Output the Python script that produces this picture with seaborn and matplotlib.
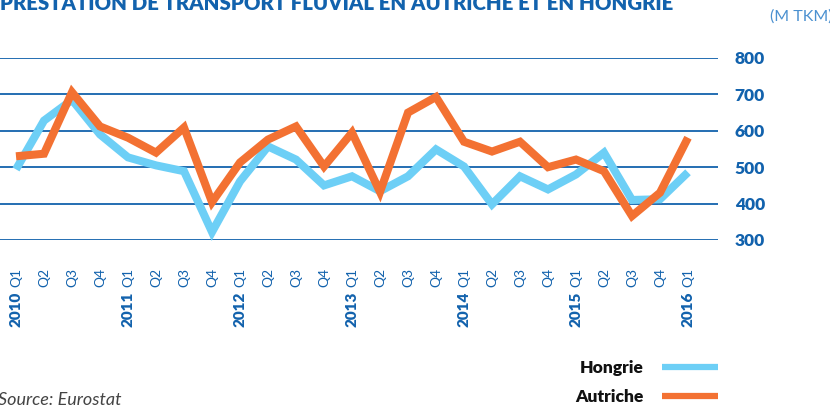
import matplotlib
matplotlib.use("Agg")
import matplotlib.pyplot as plt
import matplotlib.transforms as mtransforms
import pandas as pd
import seaborn as sns

sns.set_style("white")
plt.rcParams["font.family"] = ["Lato", "DejaVu Sans"]

# quarterly data 2010 Q1 .. 2016 Q1 (million tkm)
years = [2010, 2011, 2012, 2013, 2014, 2015, 2016]
quarters = ["Q1", "Q2", "Q3", "Q4"]
hongrie = [494, 628, 685, 590, 527, 505, 489, 322, 461, 557, 521, 450, 475,
           434, 475, 549, 502, 398, 475, 439, 480, 540, 410, 412, 486]
autriche = [530, 537, 706, 612, 581, 540, 609, 404, 513, 576, 612, 502, 595,
            432, 650, 693, 570, 543, 570, 500, 521, 489, 366, 430, 581]

labels = [f"{y} {q}" for y in years for q in quarters][:len(hongrie)]
idx = list(range(len(labels)))
df = pd.DataFrame({
    "t": idx * 2,
    "valeur": hongrie + autriche,
    "pays": ["Hongrie"] * len(idx) + ["Autriche"] * len(idx),
})

blue_dark = "#1262ad"
colors = {"Hongrie": "#6dcff6", "Autriche": "#f37132"}

fig = plt.figure(figsize=(8.3, 4.08), dpi=100)
ax = fig.add_axes([0, 1 - 240 / 408, 718 / 830, 182 / 408])

sns.lineplot(data=df, x="t", y="valeur", hue="pays", palette=colors,
             hue_order=["Hongrie", "Autriche"], linewidth=5.8,
             legend=False, ax=ax)
for ln in ax.lines:
    ln.set_clip_on(False)
    ln.set_solid_joinstyle("miter")
    ln.set_solid_capstyle("butt")

ax.set_xlim(-16 / 28, (718 - 16) / 28)
ax.set_ylim(300, 800)
ax.set_yticks([300, 400, 500, 600, 700, 800])
ax.yaxis.tick_right()
ax.grid(axis="y", color=blue_dark, linewidth=1.3)
ax.set_axisbelow(True)
for s in ax.spines.values():
    s.set_visible(False)
ax.tick_params(axis="y", length=0, pad=12, labelsize=12.5, labelcolor=blue_dark)
for t in ax.get_yticklabels():
    t.set_fontweight("heavy")

ax.set_xticks(idx)
ax.set_xticklabels([l.split()[1] for l in labels], rotation=90)
ax.tick_params(axis="x", length=0, pad=20, labelsize=10, labelcolor=blue_dark)
ax.set_xlabel("")
ax.set_ylabel("")

trans = mtransforms.blended_transform_factory(ax.transData, ax.transAxes)
for i, l in enumerate(labels):
    y, q = l.split()
    if q == "Q1":
        ax.text(i, -0.285, y, transform=trans, rotation=90, ha="center",
                va="top", fontsize=11, fontweight="heavy", color=blue_dark)

# legend (text first, then line)
handles = ax.lines[:2]
leg = ax.legend(handles, ["Hongrie", "Autriche"], loc="upper right",
                bbox_to_anchor=(718 / 830, 1 - 360 / 408),
                bbox_transform=fig.transFigure, frameon=False,
                markerfirst=False, handlelength=3.2, handletextpad=1.1,
                labelspacing=0.75, borderpad=0, borderaxespad=0,
                prop={"weight": "heavy", "size": 12.5})
for lh in leg.get_lines():
    lh.set_linewidth(4.5)
    lh.set_solid_capstyle("butt")
for tx in leg.get_texts():
    tx.set_color("#111111")

fig.text(0, 1 - 10 / 408, "PRESTATION DE TRANSPORT FLUVIAL EN AUTRICHE ET EN HONGRIE",
         fontsize=14.7, fontweight="heavy", color=blue_dark, va="baseline")
fig.text(770 / 830, 1 - 17 / 408, "(M TKM)", fontsize=11.5, color="#4a90d0",
         va="center")
fig.text(-0.002, 1 - 400 / 408, "Source: Eurostat", fontsize=13,
         fontstyle="italic", color="#444444", va="center")

fig.savefig("out.png", dpi=100)
